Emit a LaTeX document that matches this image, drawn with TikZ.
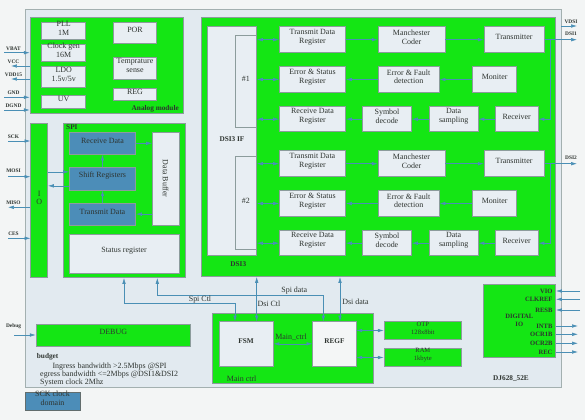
\documentclass[tikz,border=0pt]{standalone}
\usepackage{fontspec}
\setmainfont{Liberation Serif}
\usetikzlibrary{arrows.meta,fit,calc}

\definecolor{pagebg}{HTML}{F3F5F5}
\definecolor{chipbg}{HTML}{E2EAF0}
\definecolor{modgreen}{HTML}{14E614}
\definecolor{boxbg}{HTML}{E8EEF3}
\definecolor{regbg}{HTML}{F4F6F6}
\definecolor{spiblue}{HTML}{4C8DB8}
\definecolor{wirec}{HTML}{4A8FB5}
\definecolor{edge}{HTML}{8C9C9C}
\definecolor{ink}{HTML}{2E3430}

\newcommand\boxfont{\fontsize{6.8}{7.5}\selectfont}
\newcommand\pinfont{\fontsize{4.6}{5}\selectfont\bfseries}
\newcommand\tagfont{\fontsize{6.2}{7}\selectfont\bfseries}
\newcommand\iofont{\fontsize{5.6}{6.6}\selectfont\bfseries}

\begin{document}
\begin{tikzpicture}[x=0.03cm, y=-0.03cm,
    blk/.style={draw=edge, fill=boxbg, inner sep=0pt, align=center, font=\boxfont, text=ink},
    grn/.style={blk, fill=modgreen},
    sblk/.style={blk, fill=spiblue},
    wire/.style={draw=wirec, line width=0.5pt, -{Latex[length=5pt,width=3pt]}},
    bwire/.style={wire, {Latex[length=5pt,width=3pt]}-{Latex[length=5pt,width=3pt]}},
    pinlbl/.style={font=\pinfont, text=ink, inner sep=0pt, anchor=base},
    tag/.style={font=\tagfont, text=ink, inner sep=0pt},
    lbl/.style={font=\boxfont, text=ink, inner sep=0pt},
    iolbl/.style={font=\iofont, text=ink, inner sep=0pt, anchor=east}]

  % page and chip outline
  \fill[pagebg] (0,0) rectangle (585,420);
  \useasboundingbox (0,0) rectangle (585,420);
  \node[draw=edge!80, fill=chipbg, line width=0.8pt, inner sep=0pt, fit={(25,9) (561,387)}] (chip) {};

  % analog module
  \node[grn, fit={(30,17) (183,113)}] (ana) {};
  \node[blk, fit={(41.7,22.3) (85.7,39.3)}] (pll) {PLL\\1M};
  \node[blk, fit={(41.7,44.3) (85.7,61.7)}] (clk) {Clock gen\\16M};
  \node[blk, fit={(41.7,66.7) (85.7,87.3)}] (ldo) {LDO\\1.5v/5v};
  \node[blk, fit={(41.7,95) (85.7,108.3)}] (uv) {UV};
  \node[blk, fit={(113.3,22.3) (156.7,43.3)}] (por) {POR};
  \node[blk, fit={(113.3,57.3) (156.7,79)}] (temp) {Temprature\\sense};
  \node[blk, fit={(113.3,88.3) (156.7,100.7)}] (reg) {REG};
  \node[tag, anchor=east] at (179,108.3) {Analog module};

  \coordinate (vbat) at (4,52.7);
  \coordinate (vcc) at (11,66);
  \coordinate (vdd) at (11,79);
  \coordinate (gnd) at (4,97.3);
  \coordinate (dgnd) at (4,110);
  \draw[wire] (vbat) -- (vbat -| ana.west);
  \draw[wire] (vcc -| ana.west) -- (vcc);
  \draw[wire] (vdd -| ana.west) -- (vdd);
  \draw[wire] (gnd) -- (gnd -| ana.west);
  \draw[wire] (dgnd) -- (dgnd -| ana.west);
  \node[pinlbl] at (13.5,50.2) {VBAT};
  \node[pinlbl] at (13.5,63.5) {VCC};
  \node[pinlbl] at (13.5,76.5) {VDD15};
  \node[pinlbl] at (13.5,94.8) {GND};
  \node[pinlbl] at (13.5,107.5) {DGND};

  % SPI
  \node[grn, fit={(30.7,123.3) (47.7,277.7)}] (io) {I\\O};
  \node[grn, fit={(63.3,123.3) (185.7,277.7)}] (spi) {};
  \node[tag, anchor=north west] at (66,124.6) {SPI};
  \node[sblk, fit={(69.3,132.3) (135.7,154.3)}] (rxd) {Receive Data};
  \node[sblk, fit={(69.3,167.7) (135.7,190)}] (shift) {Shift Registers};
  \node[sblk, fit={(69.3,203.3) (135.7,225)}] (txd) {Transmit Data};
  \node[blk, fit={(152.3,132.3) (179,225)}] (dbuf) {};
  \node[lbl, rotate=-90] at (dbuf.center) {Data Buffer};
  \node[blk, fit={(69.3,234) (179,273.3)}] (stat) {Status register};

  \draw[wire] (shift) -- (rxd);
  \draw[wire] (txd) -- (shift);
  \draw[wire] (rxd.east) -- (rxd.east -| dbuf.west);
  \draw[wire] (txd.east -| dbuf.west) -- (txd.east);
  \coordinate (sin) at ([yshift=2.1mm]shift.west);
  \coordinate (sout) at ([yshift=-2.1mm]shift.west);
  \draw[wire] (sin -| io.east) -- (sin);
  \draw[wire] (sout) -- (sout -| io.east);

  \coordinate (sck) at (8,141);
  \coordinate (mosi) at (8,176.7);
  \coordinate (miso) at (8,207.3);
  \coordinate (ces) at (8,238.3);
  \draw[wire] (sck) -- (sck -| io.west);
  \draw[wire] (mosi) -- (mosi -| io.west);
  \draw[wire] (miso -| io.west) -- (miso);
  \draw[wire] (ces) -- (ces -| io.west);
  \node[pinlbl] at (13.5,138.5) {SCK};
  \node[pinlbl] at (13.5,172.2) {MOSI};
  \node[pinlbl] at (13.5,204.8) {MISO};
  \node[pinlbl] at (13.5,235.8) {CES};

  % DSI3
  \node[grn, fit={(201.7,17.3) (555.7,276.7)}] (dsi) {};
  \node[tag] at (238.3,264) {DSI3};
  \node[blk, fit={(207.3,26.7) (256.7,255.7)}, font=\tagfont] (dsiif) {DSI3 IF};
  \node[blk, fit={(235,35) (256.7,127.3)}] (ch1) {\#1};
  \node[blk, fit={(235,156.7) (256.7,249.3)}] (ch2) {\#2};

  % channel 1
  \node[blk, fit={(279.3,26.7) (345.7,52.7)}] (tdr1) {Transmit Data\\Register};
  \node[blk, fit={(378,26.7) (445,52.7)}] (mc1) {Manchester\\Coder};
  \node[blk, fit={(484,26.7) (544.3,52.7)}] (tx1) {Transmitter};
  \node[blk, fit={(279.3,66.7) (345.7,92.3)}] (esr1) {Error \& Status\\Register};
  \node[blk, fit={(378,66.7) (439.3,92.3)}] (efd1) {Error \& Fault\\detection};
  \node[blk, fit={(472.7,66.7) (516.7,92.3)}] (mon1) {Moniter};
  \node[blk, fit={(279.3,106.7) (345.7,131.7)}] (rdr1) {Receive Data\\Register};
  \node[blk, fit={(362.3,106.7) (411.7,131.7)}] (sd1) {Symbol\\decode};
  \node[blk, fit={(429,106.7) (478.3,131.7)}] (ds1) {Data\\sampling};
  \node[blk, fit={(495,106.7) (538.3,131.7)}] (rx1) {Receiver};

  % channel 2
  \node[blk, fit={(279.3,150.7) (345.7,176.7)}] (tdr2) {Transmit Data\\Register};
  \node[blk, fit={(378,150.7) (445,176.7)}] (mc2) {Manchester\\Coder};
  \node[blk, fit={(484,150.7) (544.3,176.7)}] (tx2) {Transmitter};
  \node[blk, fit={(279.3,190.7) (345.7,216.3)}] (esr2) {Error \& Status\\Register};
  \node[blk, fit={(378,190.7) (439.3,216.3)}] (efd2) {Error \& Fault\\detection};
  \node[blk, fit={(472.7,190.7) (516.7,216.3)}] (mon2) {Moniter};
  \node[blk, fit={(279.3,230.7) (345.7,255.7)}] (rdr2) {Receive Data\\Register};
  \node[blk, fit={(362.3,230.7) (411.7,255.7)}] (sd2) {Symbol\\decode};
  \node[blk, fit={(429,230.7) (478.3,255.7)}] (ds2) {Data\\sampling};
  \node[blk, fit={(495,230.7) (538.3,255.7)}] (rx2) {Receiver};

  \draw[bwire] (ch1.east |- tdr1.west) -- (tdr1.west);
  \draw[bwire] (ch1.east |- esr1.west) -- (esr1.west);
  \draw[bwire] (ch1.east |- rdr1.west) -- (rdr1.west);
  \draw[bwire] (ch2.east |- tdr2.west) -- (tdr2.west);
  \draw[bwire] (ch2.east |- esr2.west) -- (esr2.west);
  \draw[bwire] (ch2.east |- rdr2.west) -- (rdr2.west);

  \draw[wire] (tdr1) -- (mc1);
  \draw[wire] (mc1) -- (tx1);
  \draw[wire] (mon1) -- (efd1);
  \draw[wire] (efd1) -- (esr1);
  \draw[wire] (rx1) -- (ds1);
  \draw[wire] (ds1) -- (sd1);
  \draw[wire] (sd1) -- (rdr1);
  \draw[wire] (tdr2) -- (mc2);
  \draw[wire] (mc2) -- (tx2);
  \draw[wire] (mon2) -- (efd2);
  \draw[wire] (efd2) -- (esr2);
  \draw[wire] (rx2) -- (ds2);
  \draw[wire] (ds2) -- (sd2);
  \draw[wire] (sd2) -- (rdr2);

  \coordinate (vdsi) at (577,26);
  \coordinate (dsi1) at (577,39.7);
  \coordinate (dsi2) at (577,163.7);
  \draw[wire] (vdsi -| chip.east) -- (vdsi);
  \draw[wire] (tx1.east) -- (dsi1);
  \draw[wire] (tx2.east) -- (dsi2);
  \draw[wire] ([xshift=1.8mm]tx1.east) |- (rx1.east);
  \draw[wire] ([xshift=1.8mm]tx2.east) |- (rx2.east);
  \node[pinlbl] at (571,23.5) {VDSI};
  \node[pinlbl] at (571,35) {DSI1};
  \node[pinlbl] at (571,159.2) {DSI2};

  % main ctrl
  \node[grn, fit={(212.7,313.3) (373.3,383.3)}] (mainc) {};
  \node[lbl] at (241.7,378.3) {Main ctrl};
  \node[blk, fit={(219,321.7) (273.3,366)}, font=\tagfont] (fsm) {FSM};
  \node[blk, fill=regbg, fit={(312.7,321.7) (356,366)}, font=\tagfont] (regf) {REGF};
  \node[grn, fit={(384,321.7) (461.7,339.3)}, font=\iofont\mdseries] (otp) {OTP\\128x8bit};
  \node[grn, fit={(384,348.3) (461.7,366.7)}, font=\iofont\mdseries] (ram) {RAM\\1kbyte};
  \draw[bwire] (fsm.east) -- (regf.west);
  \node[lbl] at (291,337.3) {Main\_ctrl};
  \draw[bwire] (regf.east |- otp.west) -- (otp.west);
  \draw[bwire] (regf.east |- ram.west) -- (ram.west);

  \coordinate (spc) at (124,303.3);
  \coordinate (ctlx) at (235,303.3);
  \coordinate (spd) at (157.3,295);
  \coordinate (datx) at (323.3,295);
  \coordinate (dctl) at (256.7,300);
  \coordinate (ddat) at (340,300);
  \draw[bwire] (spi.south -| spc) -- (spc) -- (ctlx) -- (ctlx |- fsm.north);
  \draw[bwire] (spi.south -| spd) -- (spd) -- (datx) -- (datx |- regf.north);
  \draw[bwire] (dsi.south -| dctl) -- (fsm.north -| dctl);
  \draw[bwire] (dsi.south -| ddat) -- (regf.north -| ddat);
  \node[lbl] at (200,299.3) {Spi Ctl};
  \node[lbl] at (294.3,290.7) {Spi data};
  \node[lbl] at (269,303.3) {Dsi Ctl};
  \node[lbl] at (355.5,301.7) {Dsi data};

  % digital io
  \node[grn, fit={(483.3,284.3) (555.7,357.3)}] (dio) {};
  \node[font=\iofont, text=ink, align=center, inner sep=0pt] at (519.3,320.3) {DIGITAL\\IO};
  \node[iolbl] at (552.7,291) {VIO};
  \node[iolbl] at (552.7,299.3) {CLKREF};
  \node[iolbl] at (552.7,310) {RESB};
  \node[iolbl] at (552.7,326) {INTB};
  \node[iolbl] at (552.7,334.3) {OCR1B};
  \node[iolbl] at (552.7,343.3) {OCR2B};
  \node[iolbl] at (552.7,352) {REC};
  \coordinate (vio) at (580,291);
  \coordinate (clkref) at (580,299.3);
  \coordinate (resb) at (580,310);
  \coordinate (intb) at (578,326);
  \coordinate (ocr1) at (578,334.3);
  \coordinate (ocr2) at (578,343.3);
  \coordinate (rec) at (578,352);
  \draw[wire] (vio) -- (vio -| dio.east);
  \draw[wire] (clkref) -- (clkref -| dio.east);
  \draw[wire] (resb) -- (resb -| dio.east);
  \draw[wire] (intb -| dio.east) -- (intb);
  \draw[wire] (ocr1 -| dio.east) -- (ocr1);
  \draw[wire] (ocr2 -| dio.east) -- (ocr2);
  \draw[wire] (rec -| dio.east) -- (rec);
  \node[tag] at (511,378.3) {DJ628\_52E};

  % debug and budget
  \node[grn, fit={(36,324) (190.7,346)}] (dbg) {DEBUG};
  \coordinate (dbgin) at (14,335);
  \draw[wire] (dbgin) -- (dbgin -| dbg.west);
  \node[pinlbl] at (13.5,327.8) {Debug};
  \node[tag, anchor=base west] at (36.7,358.8) {budget};
  \node[lbl, anchor=west] at (52.3,366.7) {Ingress bandwidth >2.5Mbps @SPI};
  \node[lbl, anchor=west] at (40,374.2) {egress bandwidth <=2Mbps @DSI1\&DSI2};
  \node[lbl, anchor=west] at (40,383) {System clock 2Mhz};

  \node[sblk, draw=edge!70!black, fit={(25,392) (80,410)}] (sckdom) {SCK clock\\domain};
\end{tikzpicture}
\end{document}
